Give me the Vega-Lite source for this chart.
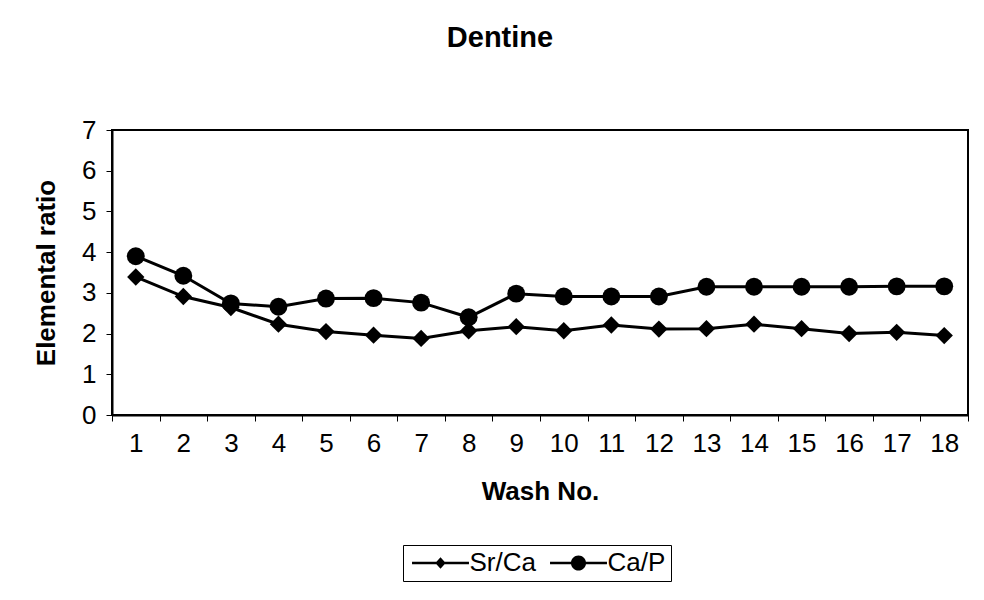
{
  "$schema": "https://vega.github.io/schema/vega-lite/v6.json",
  "width": 856,
  "height": 285,
  "autosize": "none",
  "padding": {"left": 112, "top": 130, "right": 16, "bottom": 185},
  "background": "white",
  "title": {"text": "Dentine", "fontSize": 29, "font": "Liberation Sans", "fontWeight": "bold", "anchor": "middle", "color": "black", "offset": 64, "dx": -40},
  "config": {
    "view": {"stroke": "black", "strokeWidth": 2},
    "font": "Liberation Sans",
    "axis": {
      "labelFont": "Liberation Sans", "labelFontSize": 26, "labelColor": "black",
      "titleFont": "Liberation Sans", "titleFontSize": 26, "titleFontWeight": "bold", "titleColor": "black",
      "domainColor": "black", "domainWidth": 2, "tickColor": "black", "tickWidth": 1, "tickSize": 6, "grid": false
    }
  },
  "data": {
    "values": [
      {"wash": 1, "series": "Sr/Ca", "value": 3.39},
      {"wash": 2, "series": "Sr/Ca", "value": 2.91},
      {"wash": 3, "series": "Sr/Ca", "value": 2.64},
      {"wash": 4, "series": "Sr/Ca", "value": 2.23},
      {"wash": 5, "series": "Sr/Ca", "value": 2.05},
      {"wash": 6, "series": "Sr/Ca", "value": 1.96},
      {"wash": 7, "series": "Sr/Ca", "value": 1.88},
      {"wash": 8, "series": "Sr/Ca", "value": 2.07},
      {"wash": 9, "series": "Sr/Ca", "value": 2.17},
      {"wash": 10, "series": "Sr/Ca", "value": 2.07},
      {"wash": 11, "series": "Sr/Ca", "value": 2.21},
      {"wash": 12, "series": "Sr/Ca", "value": 2.11},
      {"wash": 13, "series": "Sr/Ca", "value": 2.12},
      {"wash": 14, "series": "Sr/Ca", "value": 2.23},
      {"wash": 15, "series": "Sr/Ca", "value": 2.12},
      {"wash": 16, "series": "Sr/Ca", "value": 2.0},
      {"wash": 17, "series": "Sr/Ca", "value": 2.03},
      {"wash": 18, "series": "Sr/Ca", "value": 1.95},
      {"wash": 1, "series": "Ca/P", "value": 3.9},
      {"wash": 2, "series": "Ca/P", "value": 3.42},
      {"wash": 3, "series": "Ca/P", "value": 2.74},
      {"wash": 4, "series": "Ca/P", "value": 2.66},
      {"wash": 5, "series": "Ca/P", "value": 2.86},
      {"wash": 6, "series": "Ca/P", "value": 2.87},
      {"wash": 7, "series": "Ca/P", "value": 2.76},
      {"wash": 8, "series": "Ca/P", "value": 2.4},
      {"wash": 9, "series": "Ca/P", "value": 2.98},
      {"wash": 10, "series": "Ca/P", "value": 2.91},
      {"wash": 11, "series": "Ca/P", "value": 2.91},
      {"wash": 12, "series": "Ca/P", "value": 2.91},
      {"wash": 13, "series": "Ca/P", "value": 3.15},
      {"wash": 14, "series": "Ca/P", "value": 3.15},
      {"wash": 15, "series": "Ca/P", "value": 3.15},
      {"wash": 16, "series": "Ca/P", "value": 3.15},
      {"wash": 17, "series": "Ca/P", "value": 3.16},
      {"wash": 18, "series": "Ca/P", "value": 3.16}
    ]
  },
  "encoding": {
    "x": {
      "field": "wash", "type": "ordinal",
      "scale": {"type": "band", "paddingInner": 0, "paddingOuter": 0},
      "axis": {"title": "Wash No.", "labelAngle": 0, "tickBand": "extent", "labelPadding": 9, "titlePadding": 22}
    },
    "y": {
      "field": "value", "type": "quantitative",
      "scale": {"domain": [0, 7], "nice": false},
      "axis": {"title": "Elemental ratio", "values": [0, 1, 2, 3, 4, 5, 6, 7], "labelPadding": 10, "titlePadding": 22}
    }
  },
  "layer": [
    {
      "mark": {"type": "line", "color": "black", "strokeWidth": 3},
      "encoding": {"detail": {"field": "series", "type": "nominal"}}
    },
    {
      "transform": [{"filter": "datum.series === 'Sr/Ca'"}],
      "mark": {"type": "point", "shape": "diamond", "filled": true, "color": "black", "opacity": 1, "size": 300}
    },
    {
      "transform": [{"filter": "datum.series === 'Ca/P'"}],
      "mark": {"type": "point", "shape": "circle", "filled": true, "color": "black", "opacity": 1, "size": 320}
    },
    {
      "mark": {"type": "point", "filled": true, "color": "black", "opacity": 0},
      "encoding": {
        "shape": {
          "field": "series", "type": "nominal",
          "scale": {
            "domain": ["Sr/Ca", "Ca/P"],
            "range": ["M-2.19,-0.1H2.19V0.1H-2.19ZM-0.4,0L0,-0.45L0.4,0L0,0.45Z", "M-2.19,-0.1H2.19V0.1H-2.19ZM0.58,0A0.58,0.58,0,1,1,-0.58,0A0.58,0.58,0,1,1,0.58,0Z"]
          },
          "legend": {
            "title": null, "orient": "none", "legendX": 291, "legendY": 415, "direction": "horizontal",
            "symbolSize": 676, "symbolOffset": 19.5, "symbolOpacity": 1, "symbolFillColor": "black", "symbolStrokeColor": "black", "symbolStrokeWidth": 0,
            "labelFontSize": 26, "labelColor": "black", "labelFont": "Liberation Sans", "labelOffset": 16, "columnPadding": 10,
            "strokeColor": "black", "padding": 5,
            "encode": {"symbols": {"update": {"opacity": {"value": 1}, "fill": {"value": "black"}}}}
          }
        }
      }
    }
  ]
}
